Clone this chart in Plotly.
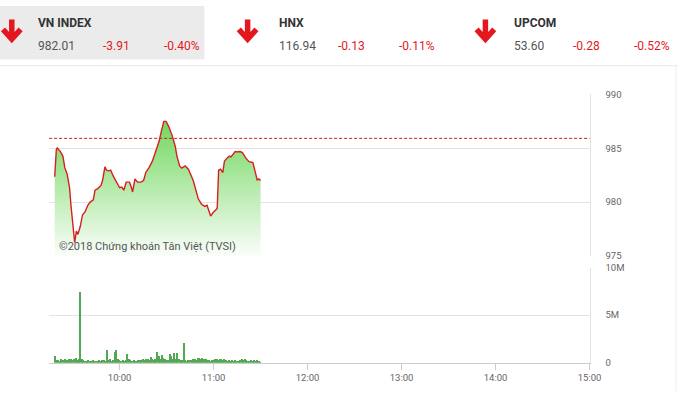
import plotly.graph_objects as go
import pandas as pd

W, H = 690, 396
DAY = "2018-01-01 "

# ---- header data ----
idx_names = ["VN INDEX", "HNX", "UPCOM"]
idx_values = ["982.01", "116.94", "53.60"]
idx_changes = ["-3.91", "-0.13", "-0.28"]
idx_pcts = ["-0.40%", "-0.11%", "-0.52%"]

ref_value = 985.92  # previous close (982.01 + 3.91)

# ---- intraday price ----
price_times = [
    "09:18:34", "09:19:36", "09:20:12", "09:22:18", "09:23:48", "09:25:00", "09:26:30", "09:28:00",
    "09:29:00", "09:30:18", "09:31:18", "09:32:24", "09:33:24", "09:34:54", "09:36:18", "09:38:00",
    "09:39:42", "09:41:12", "09:43:12", "09:44:18", "09:46:00", "09:48:06", "09:49:06", "09:50:36",
    "09:51:36", "09:53:06", "09:54:18", "09:55:48", "09:57:54", "10:00:00", "10:01:24", "10:02:42",
    "10:04:12", "10:06:18", "10:07:18", "10:08:18", "10:09:48", "10:11:30", "10:13:36", "10:15:18",
    "10:16:42", "10:18:48", "10:20:54", "10:23:00", "10:25:06", "10:26:30", "10:28:12", "10:29:42",
    "10:31:24", "10:33:30", "10:35:30", "10:36:36", "10:38:18", "10:39:42", "10:41:48", "10:43:54",
    "10:45:24", "10:47:00", "10:48:42", "10:50:12", "10:52:18", "10:54:24", "10:55:48", "10:57:06",
    "10:58:06", "10:59:36", "11:01:42", "11:02:18", "11:03:12", "11:04:24", "11:05:54", "11:06:54",
    "11:08:24", "11:10:06", "11:11:06", "11:12:12", "11:13:48", "11:15:18", "11:16:48", "11:18:24",
    "11:20:30", "11:22:36", "11:25:06", "11:26:24", "11:27:48", "11:28:54", "11:30:00",
]
price_values = [
    982.36, 984.88, 985.03, 984.67, 984.27, 983.20, 982.60, 981.40,
    979.60, 977.75, 976.24, 977.30, 977.00, 977.75, 978.80, 979.10,
    979.70, 980.00, 980.20, 981.10, 981.25, 981.55, 982.00, 983.27,
    982.97, 982.90, 982.97, 982.45, 981.85, 981.33, 981.40, 981.10,
    981.85, 981.85, 981.45, 980.94, 982.15, 981.85, 981.85, 982.00,
    982.75, 983.20, 983.80, 984.70, 985.60, 986.50, 987.50, 987.50,
    987.00, 986.20, 985.20, 984.27, 983.36, 983.15, 983.36, 983.06,
    982.45, 982.00, 981.10, 980.30, 979.80, 979.60, 979.70, 979.10,
    978.70, 979.00, 979.30, 979.40, 982.97, 983.06, 982.75, 983.80,
    984.06, 984.27, 984.20, 984.40, 984.70, 984.67, 984.70, 984.60,
    984.10, 983.75, 983.66, 982.90, 982.06, 982.15, 982.01,
]

# ---- volume per minute (09:19 .. 11:30), millions of shares ----
vol_start = "09:19"
vol_millions = [
    0.75, 0.35, 0.30, 0.25, 0.40, 0.30, 0.45, 0.35, 0.30, 0.50, 0.40, 0.30, 0.45, 0.55, 0.35, 0.50,
    7.45, 0.40, 0.30, 0.20, 0.25, 0.30, 0.20, 0.25, 0.30, 0.20, 0.25, 0.20, 0.30, 0.25, 0.35, 0.30,
    0.25, 1.36, 0.30, 0.40, 0.25, 0.30, 1.16, 1.43, 0.50, 0.30, 0.25, 0.30, 0.20, 0.35, 1.00, 0.50,
    0.30, 0.25, 0.30, 0.20, 0.25, 0.30, 0.35, 0.30, 0.45, 0.30, 0.50, 0.40, 0.30, 0.65, 0.45, 0.35,
    0.50, 1.16, 0.75, 0.50, 0.88, 0.58, 0.40, 0.30, 0.35, 1.00, 0.75, 0.40, 1.09, 0.45, 1.09, 0.50,
    0.30, 0.35, 2.18, 0.30, 0.25, 0.30, 0.35, 0.30, 0.40, 0.50, 0.35, 0.55, 0.60, 0.45, 0.60, 0.40,
    0.50, 0.35, 0.30, 0.25, 0.35, 0.30, 0.40, 0.45, 0.30, 0.50, 0.45, 0.35, 0.40, 0.30, 0.25, 0.30,
    0.20, 0.30, 0.25, 0.30, 0.20, 0.25, 0.30, 0.40, 0.35, 0.45, 0.30, 0.20, 0.25, 0.30, 0.20, 0.30,
    0.25, 0.35, 0.20, 0.15,
]

price_ticks = [975, 980, 985, 990]
vol_tickvals = [0, 5e6, 10e6]
vol_ticktext = ["0", "5M", "10M"]
x_range = ["09:15", "15:00"]


def px(x):
    return x / W


def py(y):
    return 1 - y / H


px_times = pd.to_datetime([DAY + t for t in price_times])
vol_times = pd.date_range(DAY + vol_start, periods=len(vol_millions), freq="min")
vol_values = [v * 1e6 for v in vol_millions]

RED = "#e3171d"
GRAY_TXT = "#666666"
GRID = "#e3e3e3"

fig = go.Figure()

fig.add_trace(go.Scatter(
    x=px_times, y=price_values, mode="lines",
    line=dict(color="#d81e1e", width=1.4),
    fill="tozeroy",
    fillgradient=dict(type="vertical", start=975, stop=988,
                      colorscale=[[0, "rgba(255,255,255,1)"], [1, "rgb(108,214,88)"]]),
    xaxis="x", yaxis="y", hoverinfo="skip",
))

fig.add_trace(go.Bar(
    x=vol_times, y=vol_values, width=42000,
    marker=dict(color="#52a852", line=dict(width=0)),
    xaxis="x2", yaxis="y2", hoverinfo="skip",
))

xd = [px(50), px(600)]
xr = [DAY + x_range[0], DAY + x_range[1]]

fig.update_layout(
    width=W, height=H,
    margin=dict(l=0, r=0, t=0, b=0),
    paper_bgcolor="white", plot_bgcolor="rgba(0,0,0,0)",
    showlegend=False,
    font=dict(family="Roboto, Arial, sans-serif", color=GRAY_TXT, size=10),
    bargap=0,
    xaxis=dict(domain=xd, range=xr, type="date", showgrid=False, showticklabels=False,
               zeroline=False, showline=False, ticks="", anchor="y"),
    yaxis=dict(domain=[py(257), py(91)], range=[975, 990], side="right", anchor="x",
               tickvals=price_ticks, showgrid=True, gridcolor=GRID, gridwidth=1,
               zeroline=False, showline=True, linecolor=GRID, linewidth=1,
               ticks="", ticklabelstandoff=13,
               tickfont=dict(size=9.5, color=GRAY_TXT, family="Roboto")),
    xaxis2=dict(domain=xd, range=xr, type="date", anchor="y2", showgrid=False,
                dtick=3600000, tick0=DAY + "10:00", tickformat="%H:%M",
                ticks="outside", ticklen=6, tickcolor="#cccccc",
                showline=True, linecolor="#cccccc", linewidth=1, zeroline=False,
                tickfont=dict(size=9.5, color=GRAY_TXT, family="Roboto")),
    yaxis2=dict(domain=[py(367), py(269)], range=[0, 10e6], side="right", anchor="x2",
                tickvals=vol_tickvals, ticktext=vol_ticktext, showgrid=True,
                gridcolor=GRID, zeroline=False, showline=True, linecolor=GRID,
                ticks="", ticklabelstandoff=13,
                tickfont=dict(size=9.5, color=GRAY_TXT, family="Roboto")),
)

shapes = []
# reference dashed line
shapes.append(dict(type="line", xref="x domain", yref="y", x0=0, x1=1,
                   y0=ref_value, y1=ref_value,
                   line=dict(color="#c81e1e", width=1, dash="3px,2px")))
# header background + separators
shapes.append(dict(type="rect", xref="paper", yref="paper", x0=0, x1=px(208),
                   y0=py(55), y1=1, fillcolor="#ebebeb", line=dict(width=0), layer="below"))
shapes.append(dict(type="line", xref="paper", yref="paper", x0=0, x1=px(690),
                   y0=py(61.5), y1=py(61.5), line=dict(color="#e8e8e8", width=1)))
shapes.append(dict(type="line", xref="paper", yref="paper", x0=px(688), x1=px(688),
                   y0=py(396), y1=py(61), line=dict(color="#eeeeee", width=1)))

annotations = []
name_x = [37, 282, 521]
arrow_x = [12, 252, 494]
chg_x = [103, 342, 581]
pct_x = [165, 404, 643]
for i in range(3):
    ax = arrow_x[i]
    path = (f"M {px(ax)} {py(14)} L {px(ax)} {py(34)} "
            f"M {px(ax - 9)} {py(24)} L {px(ax)} {py(34)} L {px(ax + 9)} {py(24)}")
    shapes.append(dict(type="path", xref="paper", yref="paper", path=path,
                       line=dict(color=RED, width=5.5)))
    annotations.append(dict(x=px(name_x[i]), y=py(17), xref="paper", yref="paper",
                            text=f"<b>{idx_names[i]}</b>", showarrow=False,
                            xanchor="left", yanchor="middle",
                            font=dict(size=12, color="#333333", family="Roboto")))
    annotations.append(dict(x=px(name_x[i]), y=py(41), xref="paper", yref="paper",
                            text=idx_values[i], showarrow=False,
                            xanchor="left", yanchor="middle",
                            font=dict(size=12, color="#555555", family="Roboto")))
    annotations.append(dict(x=px(chg_x[i]), y=py(41), xref="paper", yref="paper",
                            text=idx_changes[i], showarrow=False,
                            xanchor="left", yanchor="middle",
                            font=dict(size=12, color=RED, family="Roboto")))
    annotations.append(dict(x=px(pct_x[i]), y=py(41), xref="paper", yref="paper",
                            text=idx_pcts[i], showarrow=False,
                            xanchor="left", yanchor="middle",
                            font=dict(size=12, color=RED, family="Roboto")))

annotations.append(dict(x=px(58), y=py(247), xref="paper", yref="paper",
                        text="©2018 Chứng khoán Tân Việt (TVSI)", showarrow=False,
                        xanchor="left", yanchor="middle",
                        font=dict(size=11, color="#555555", family="Roboto")))

fig.update_layout(shapes=shapes, annotations=annotations)

fig.write_html("out.html")
